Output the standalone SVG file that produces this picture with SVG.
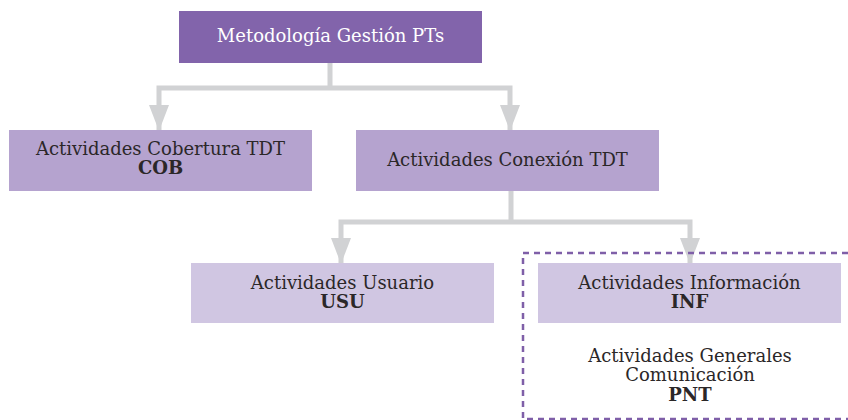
<svg xmlns="http://www.w3.org/2000/svg" width="848" height="420" viewBox="0 0 848 420">
<style>
text{font-family:"DejaVu Serif","Liberation Serif",serif;font-size:18px;fill:#2b2728;text-anchor:middle}
.w{fill:#ffffff}
.b{font-weight:bold}
.l1{fill:#8264ab}
.l2{fill:#b5a3cf}
.l3{fill:#d0c6e2}
.con{fill:none;stroke:#d1d2d4;stroke-width:5}
.ah{fill:#d1d2d4}
.grp{fill:none;stroke:#7f5fa8;stroke-width:2.5;stroke-dasharray:6 5}
</style>
<g id="connectors">
<path class="con" d="M330 63V88M159 130V88H510V130"/>
<polygon class="ah" points="149,105 169,105 159,131"/>
<polygon class="ah" points="500,105 520,105 510,131"/>
<path class="con" d="M511 191V222M341 263V222H690V263"/>
<polygon class="ah" points="331,238 351,238 341,264"/>
<polygon class="ah" points="680,238 700,238 690,264"/>
</g>
<g id="group-info">
<rect class="grp" x="523" y="253" width="340" height="166"/>
</g>
<g id="metodologia">
<rect class="l1" x="179" y="11" width="303" height="52"/>
<text class="w" x="330.5" y="42">Metodología Gestión PTs</text>
</g>
<g id="cob">
<rect class="l2" x="9" y="130" width="303" height="61"/>
<text x="160.5" y="155">Actividades Cobertura TDT</text>
<text class="b" x="160.5" y="174">COB</text>
</g>
<g id="conexion">
<rect class="l2" x="356" y="130" width="303" height="61"/>
<text x="507.5" y="166">Actividades Conexión TDT</text>
</g>
<g id="usu">
<rect class="l3" x="191" y="263" width="303" height="60"/>
<text x="342.5" y="289">Actividades Usuario</text>
<text class="b" x="342.5" y="308">USU</text>
</g>
<g id="inf">
<rect class="l3" x="538" y="263" width="303" height="60"/>
<text x="689.5" y="289">Actividades Información</text>
<text class="b" x="689.5" y="308">INF</text>
</g>
<g id="pnt">
<text x="690" y="362">Actividades Generales</text>
<text x="690" y="381">Comunicación</text>
<text class="b" x="690" y="401">PNT</text>
</g>
</svg>
